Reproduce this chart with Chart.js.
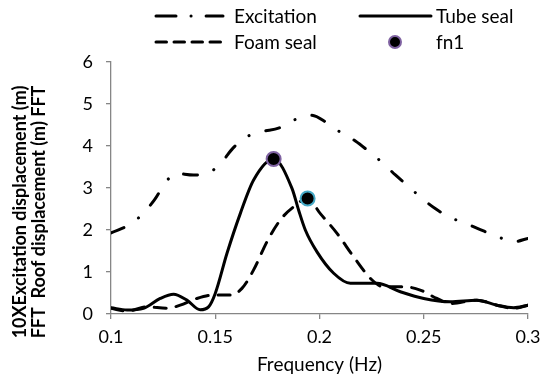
<!DOCTYPE html>
<html><head><meta charset="utf-8">
<script src="https://cdn.jsdelivr.net/npm/chart.js@4/dist/chart.umd.min.js"></script>
<style>html,body{margin:0;padding:0;background:#fff}canvas{display:block}</style>
</head><body>
<canvas id="c" width="550" height="378"></canvas>
<script>
// ---- data ----
const seriesNames = ['Excitation', 'Tube seal', 'Foam seal', 'fn1'];

const excitationX = [0.100, 0.110, 0.1155, 0.121, 0.126, 0.131, 0.1396, 0.1476, 0.1532, 0.1585, 0.1652, 0.1724, 0.1807, 0.1884, 0.196, 0.2036, 0.2108, 0.2172, 0.2239, 0.2307, 0.2364, 0.2424, 0.2492, 0.2555, 0.2622, 0.2699, 0.2771, 0.2851, 0.2931, 0.300];
const excitationY = [1.93, 2.16, 2.40, 2.73, 3.12, 3.35, 3.31, 3.38, 3.62, 3.95, 4.22, 4.34, 4.43, 4.63, 4.73, 4.55, 4.30, 4.12, 3.86, 3.58, 3.31, 3.05, 2.75, 2.51, 2.31, 2.16, 2.01, 1.85, 1.72, 1.80];

const tubeX = [0.100, 0.1077, 0.1156, 0.1236, 0.130, 0.1364, 0.1428, 0.1468, 0.150, 0.1556, 0.162, 0.1684, 0.178, 0.1868, 0.190, 0.1932, 0.1988, 0.2068, 0.2148, 0.2276, 0.2388, 0.250, 0.2627, 0.2755, 0.2851, 0.2931, 0.300];
const tubeY = [0.15, 0.095, 0.135, 0.37, 0.47, 0.33, 0.10, 0.17, 0.49, 1.44, 2.39, 3.19, 3.69, 2.99, 2.47, 2.00, 1.48, 0.97, 0.73, 0.73, 0.53, 0.37, 0.29, 0.33, 0.21, 0.15, 0.21];

const foamX = [0.100, 0.1077, 0.1173, 0.1269, 0.1332, 0.1412, 0.1492, 0.1572, 0.1628, 0.1684, 0.1748, 0.1812, 0.1876, 0.1943, 0.2004, 0.2084, 0.2164, 0.2252, 0.2307, 0.2403, 0.2483, 0.2563, 0.2627, 0.2755, 0.2851, 0.2931, 0.300];
const foamY = [0.135, 0.07, 0.17, 0.135, 0.21, 0.37, 0.45, 0.45, 0.61, 1.05, 1.72, 2.24, 2.55, 2.75, 2.39, 1.92, 1.36, 0.81, 0.65, 0.65, 0.57, 0.37, 0.25, 0.33, 0.21, 0.135, 0.21];

const fn1X = [0.178, 0.1943];
const fn1Y = [3.69, 2.75];

const xTicks = [0.1, 0.15, 0.2, 0.25, 0.3];
const xTickLabels = ['0.1', '0.15', '0.2', '0.25', '0.3'];
const yTicks = [0, 1, 2, 3, 4, 5, 6];
const yTickLabels = ['0', '1', '2', '3', '4', '5', '6'];
const xTitle = 'Frequency (Hz)';
const yTitle = ['10XExcitation displacement (m)', 'FFT  Roof displacement (m) FFT'];

// ---- build chart ----
const pts = (xs, ys) => xs.map((x, i) => ({x: x, y: ys[i]}));
const FONT = 'Lato';
const AXIS = '#868686';

const lineBase = {showLine: true, pointRadius: 0, pointHoverRadius: 0, borderColor: '#000', backgroundColor: '#000',
  borderWidth: 3, cubicInterpolationMode: 'monotone', borderCapStyle: 'round', borderJoinStyle: 'round', fill: false, order: 1};

const datasets = [
  Object.assign({}, lineBase, {label: seriesNames[0], data: pts(excitationX, excitationY), borderDash: [14, 17.5, 0.1, 17.5],
    legendDash: [20, 15, 0.1, 15]}),
  Object.assign({}, lineBase, {label: seriesNames[1], data: pts(tubeX, tubeY), borderDash: [], legendDash: []}),
  Object.assign({}, lineBase, {label: seriesNames[2], data: pts(foamX, foamY), borderDash: [12, 10], legendDash: [10.5, 7.5]}),
  {label: seriesNames[3], data: pts(fn1X, fn1Y), showLine: false, pointRadius: 7, pointHoverRadius: 7,
    pointBackgroundColor: '#000', pointBorderColor: ['#7f62a1', '#45a9c6'], pointBorderWidth: 2, order: 0}
];

const customLegend = {
  id: 'customLegend',
  afterDraw(chart) {
    const ctx = chart.ctx;
    const ds = chart.data.datasets;
    const items = [
      {i: 0, x1: 156, x2: 223, tx: 234, y: 16},
      {i: 1, x1: 360, x2: 431, tx: 436, y: 16},
      {i: 2, x1: 156, x2: 223, tx: 234, y: 42},
      {i: 3, x1: 395, x2: 395, tx: 436, y: 42}
    ];
    ctx.save();
    items.forEach(it => {
      const d = ds[it.i];
      if (d.showLine) {
        ctx.beginPath();
        ctx.lineWidth = d.borderWidth;
        ctx.strokeStyle = d.borderColor;
        ctx.lineCap = 'round';
        ctx.setLineDash(d.legendDash);
        ctx.moveTo(it.x1, it.y);
        ctx.lineTo(it.x2, it.y);
        ctx.stroke();
        ctx.setLineDash([]);
      } else {
        ctx.beginPath();
        ctx.arc(it.x1, it.y, 6, 0, Math.PI * 2);
        ctx.fillStyle = d.pointBackgroundColor;
        ctx.fill();
        ctx.lineWidth = 2;
        ctx.strokeStyle = d.pointBorderColor[0];
        ctx.stroke();
      }
      ctx.fillStyle = '#000';
      ctx.font = '19px ' + FONT;
      ctx.textAlign = 'left';
      ctx.textBaseline = 'middle';
      ctx.fillText(d.label, it.tx, it.y + 1);
    });
    ctx.restore();
  }
};

// y-axis title (two rotated lines), placed like the reference
const yTitlePlugin = {
  id: 'yTitlePlugin',
  afterDraw(chart) {
    const ctx = chart.ctx;
    ctx.save();
    ctx.fillStyle = '#000';
    ctx.font = 'bold 18px ' + FONT;
    ctx.textAlign = 'center';
    ctx.textBaseline = 'middle';
    const cx = [20, 39];
    yTitle.forEach((t, i) => {
      ctx.save();
      ctx.translate(cx[i], 212);
      ctx.rotate(-Math.PI / 2);
      ctx.fillText(t, 0, 0);
      ctx.restore();
    });
    ctx.restore();
  }
};

new Chart(document.getElementById('c'), {
  type: 'scatter',
  data: {datasets: datasets},
  options: {
    responsive: false,
    animation: false,
    events: [],
    layout: {padding: {top: 62, right: 22, left: 0, bottom: 0}},
    plugins: {legend: {display: false}, tooltip: {enabled: false}},
    scales: {
      x: {
        type: 'linear', min: 0.1, max: 0.3,
        afterBuildTicks: s => { s.ticks = xTicks.map(v => ({value: v})); },
        afterFit: s => { s.height = 64; },
        ticks: {callback: (v, i) => xTickLabels[i], color: '#000', font: {family: FONT, size: 18}, padding: 7, maxRotation: 0, autoSkip: false},
        grid: {drawOnChartArea: false, drawTicks: true, tickLength: 5, color: AXIS, lineWidth: 1.3},
        border: {color: AXIS, width: 1.3},
        title: {display: true, text: xTitle, color: '#000', font: {family: FONT, size: 19}, padding: {top: 0, bottom: 2}}
      },
      y: {
        type: 'linear', min: 0, max: 6,
        afterBuildTicks: s => { s.ticks = yTicks.map(v => ({value: v})); },
        afterFit: s => { s.width = 111; },
        ticks: {callback: (v, i) => yTickLabels[i], color: '#000', font: {family: FONT, size: 18}, padding: 13},
        grid: {drawOnChartArea: false, drawTicks: true, tickLength: 5, color: AXIS, lineWidth: 1.3},
        border: {color: AXIS, width: 1.3},
        title: {display: false}
      }
    }
  },
  plugins: [customLegend, yTitlePlugin]
});
</script>
</body></html>
